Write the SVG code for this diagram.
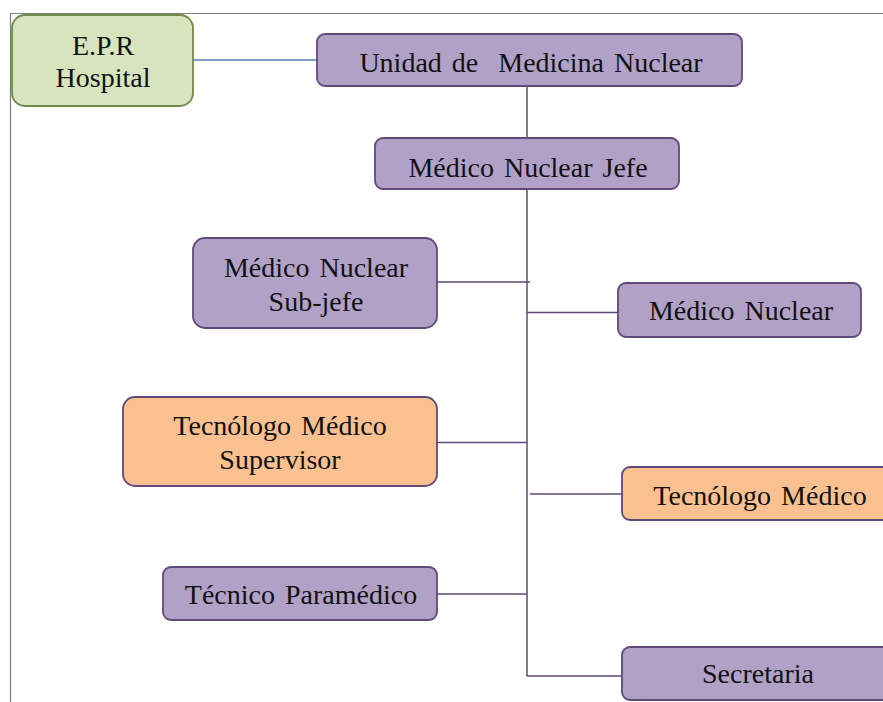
<svg xmlns="http://www.w3.org/2000/svg" width="883" height="702" viewBox="0 0 883 702">
<style>
.t{font-family:"Liberation Serif","Times New Roman",serif;font-size:28px;fill:#111;text-anchor:middle;word-spacing:3px}
.p{fill:#b2a1c7;stroke:#5f497a;stroke-width:1.8}
.o{fill:#fac090;stroke:#5f497a;stroke-width:1.8}
.g{fill:#d7e4bd;stroke:#6f8a4a;stroke-width:1.8}
.c{stroke:#5f497a;stroke-width:1.5;fill:none}
</style>
<rect width="883" height="702" fill="#fff"/>
<path d="M10.5,702 V13.5 H883" fill="none" stroke="#808080" stroke-width="1.2"/>
<g id="connectors">
<line x1="193" y1="60" x2="318" y2="60" stroke="#4f81bd" stroke-width="1.5"/>
<line class="c" x1="527" y1="86" x2="527" y2="138"/>
<line class="c" x1="527" y1="189" x2="527" y2="676"/>
<line class="c" x1="437" y1="282" x2="530" y2="282"/>
<line class="c" x1="527" y1="312.5" x2="618" y2="312.5"/>
<line class="c" x1="437" y1="442.5" x2="527" y2="442.5"/>
<line class="c" x1="530" y1="494" x2="622" y2="494"/>
<line class="c" x1="437" y1="594" x2="527" y2="594"/>
<line class="c" x1="527" y1="676" x2="622" y2="676"/>
</g>
<g id="epr">
<rect class="g" x="12" y="15" width="181" height="91" rx="13"/>
<text class="t" x="103" y="55">E.P.R</text>
<text class="t" x="103" y="87">Hospital</text>
</g>
<g id="unidad">
<rect class="p" x="317" y="34" width="425" height="52" rx="8"/>
<text class="t" x="531" y="72" xml:space="preserve">Unidad de  Medicina Nuclear</text>
</g>
<g id="jefe">
<rect class="p" x="375" y="138" width="304" height="51" rx="8"/>
<text class="t" x="528" y="177">Médico Nuclear Jefe</text>
</g>
<g id="subjefe">
<rect class="p" x="193" y="238" width="244" height="90" rx="12"/>
<text class="t" x="316" y="277">Médico Nuclear</text>
<text class="t" x="316" y="311">Sub-jefe</text>
</g>
<g id="medico">
<rect class="p" x="618" y="283" width="243" height="54" rx="8"/>
<text class="t" x="741" y="320">Médico Nuclear</text>
</g>
<g id="supervisor">
<rect class="o" x="123" y="397" width="314" height="89" rx="12"/>
<text class="t" x="280" y="435">Tecnólogo Médico</text>
<text class="t" x="280" y="469">Supervisor</text>
</g>
<g id="tecnologo">
<rect class="o" x="622" y="467" width="275" height="53" rx="8"/>
<text class="t" x="760" y="505">Tecnólogo Médico</text>
</g>
<g id="tecnico">
<rect class="p" x="163" y="567" width="274" height="53" rx="8"/>
<text class="t" x="301" y="604">Técnico Paramédico</text>
</g>
<g id="secretaria">
<rect class="p" x="622" y="647" width="275" height="53" rx="8"/>
<text class="t" x="758" y="683">Secretaria</text>
</g>
</svg>
